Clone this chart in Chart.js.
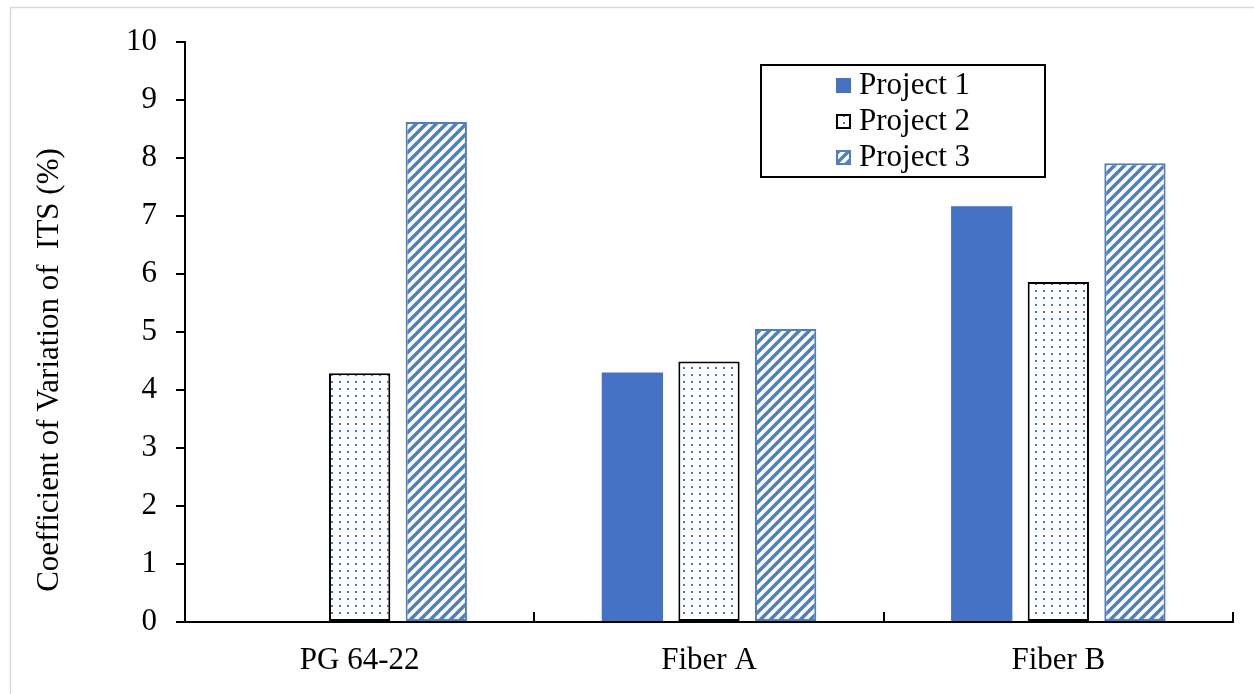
<!DOCTYPE html>
<html>
<head>
<meta charset="utf-8">
<script src="https://cdn.jsdelivr.net/npm/chart.js@4.4.1/dist/chart.umd.min.js"></script>
<style>
  html, body { margin: 0; padding: 0; background: #ffffff; }
  #wrap { width: 1254px; height: 694px; }
</style>
</head>
<body>
<div id="wrap"><canvas id="cv" width="1254" height="694"></canvas></div>
<script>
// Binder categories and the coefficient of variation of ITS (%) per project
const categories = ['PG 64-22', 'Fiber A', 'Fiber B'];
const project1 = [null, 4.30, 7.17];
const project2 = [4.29, 4.49, 5.86];
const project3 = [8.62, 5.05, 7.91];
const seriesNames = ['Project 1', 'Project 2', 'Project 3'];
const yTicks = [0, 1, 2, 3, 4, 5, 6, 7, 8, 9, 10];
const yTitle = 'Coefficient of Variation of  ITS (%)';

const FONT = "'Liberation Serif', 'Times New Roman', serif";
const FONT_SIZE = 31;
const BLUE = '#4472C4';
const STRIPE = '#4F7FBE';

// Dotted fill: small blue dots on white
function dotPattern() {
  const c = document.createElement('canvas');
  c.width = 8; c.height = 7;
  const g = c.getContext('2d');
  g.fillStyle = '#ffffff';
  g.fillRect(0, 0, 8, 7);
  g.fillStyle = BLUE;
  g.fillRect(3, 3, 2, 2);
  return document.getElementById('cv').getContext('2d').createPattern(c, 'repeat');
}

// Diagonal stripes rising to the right
function stripePattern() {
  const s = 10;
  const c = document.createElement('canvas');
  c.width = s; c.height = s;
  const g = c.getContext('2d');
  g.fillStyle = '#ffffff';
  g.fillRect(0, 0, s, s);
  g.strokeStyle = STRIPE;
  g.lineWidth = 3.4;
  g.beginPath();
  g.moveTo(-2, s + 2); g.lineTo(s + 2, -2);
  g.moveTo(-2, 2); g.lineTo(2, -2);
  g.moveTo(s - 2, s + 2); g.lineTo(s + 2, s - 2);
  g.stroke();
  return document.getElementById('cv').getContext('2d').createPattern(c, 'repeat');
}

const dots = dotPattern();
const stripes = stripePattern();

// Frame, inner x-axis ticks, y-axis title and boxed legend
const decorations = {
  id: 'decorations',
  beforeDraw(chart) {
    const ctx = chart.ctx;
    ctx.save();
    ctx.fillStyle = '#ffffff';
    ctx.fillRect(0, 0, chart.width, chart.height);
    ctx.strokeStyle = '#d9d9d9';
    ctx.lineWidth = 1.5;
    ctx.beginPath();
    ctx.moveTo(10.5, chart.height);
    ctx.lineTo(10.5, 7.5);
    ctx.lineTo(chart.width, 7.5);
    ctx.stroke();
    ctx.restore();
  },
  afterDraw(chart) {
    const ctx = chart.ctx;
    const xs = chart.scales.x;
    const area = chart.chartArea;
    ctx.save();
    // category boundary ticks pointing into the plot
    ctx.strokeStyle = '#000000';
    ctx.lineWidth = 2;
    for (let i = 0; i <= categories.length; i++) {
      const px = Math.round(xs.getPixelForValue(i - 0.5));
      ctx.beginPath();
      ctx.moveTo(px, area.bottom);
      ctx.lineTo(px, area.bottom - 10);
      ctx.stroke();
    }
    // y-axis title
    ctx.fillStyle = '#000000';
    ctx.font = FONT_SIZE + 'px ' + FONT;
    ctx.textAlign = 'center';
    ctx.textBaseline = 'middle';
    ctx.translate(50, 370);
    ctx.rotate(-Math.PI / 2);
    ctx.fillText(yTitle, 0, 0);
    ctx.restore();

    // legend box
    ctx.save();
    const bx = 761, by = 65, bw = 284, bh = 112;
    ctx.fillStyle = '#ffffff';
    ctx.fillRect(bx, by, bw, bh);
    ctx.strokeStyle = '#000000';
    ctx.lineWidth = 2;
    ctx.strokeRect(bx, by, bw, bh);
    ctx.font = FONT_SIZE + 'px ' + FONT;
    ctx.textAlign = 'left';
    ctx.textBaseline = 'middle';
    const rows = [85, 121, 157];
    chart.data.datasets.forEach((ds, i) => {
      const cy = rows[i];
      const mx = 836, my = cy - 7, ms = 15;
      ctx.fillStyle = ds.backgroundColor;
      ctx.fillRect(mx, my, ms, ms);
      if (ds.borderWidth) {
        ctx.strokeStyle = ds.borderColor;
        ctx.lineWidth = 2;
        ctx.strokeRect(mx + 1, my + 1, ms - 2, ms - 2);
      }
      ctx.fillStyle = '#000000';
      ctx.fillText(ds.label, 859, cy + 1);
    });
    ctx.restore();
  }
};

new Chart(document.getElementById('cv'), {
  type: 'bar',
  data: {
    labels: categories,
    datasets: [
      { label: seriesNames[0], data: project1, backgroundColor: BLUE, borderWidth: 0 },
      { label: seriesNames[1], data: project2, backgroundColor: dots, borderColor: '#000000', borderWidth: 2, borderSkipped: false },
      { label: seriesNames[2], data: project3, backgroundColor: stripes, borderColor: STRIPE, borderWidth: 2, borderSkipped: false }
    ]
  },
  options: {
    responsive: false,
    animation: false,
    devicePixelRatio: 1,
    categoryPercentage: 0.658,
    barPercentage: 0.80,
    layout: { padding: { left: 0, right: 21, top: 42, bottom: 0 } },
    plugins: {
      legend: { display: false },
      tooltip: { enabled: false }
    },
    scales: {
      x: {
        grid: { display: false },
        border: { display: true, color: '#000000', width: 2 },
        ticks: { color: '#000000', font: { family: FONT, size: FONT_SIZE }, padding: 12, maxRotation: 0 },
        afterFit(scale) { scale.height = 72; }
      },
      y: {
        min: 0,
        max: 10,
        afterBuildTicks(scale) { scale.ticks = yTicks.map(v => ({ value: v })); },
        grid: { drawOnChartArea: false, drawTicks: true, tickLength: 9, color: '#000000', lineWidth: 2 },
        border: { display: true, color: '#000000', width: 2 },
        ticks: { color: '#000000', font: { family: FONT, size: FONT_SIZE }, padding: 19 },
        afterFit(scale) { scale.width = 185; }
      }
    }
  },
  plugins: [decorations]
});
</script>
</body>
</html>
